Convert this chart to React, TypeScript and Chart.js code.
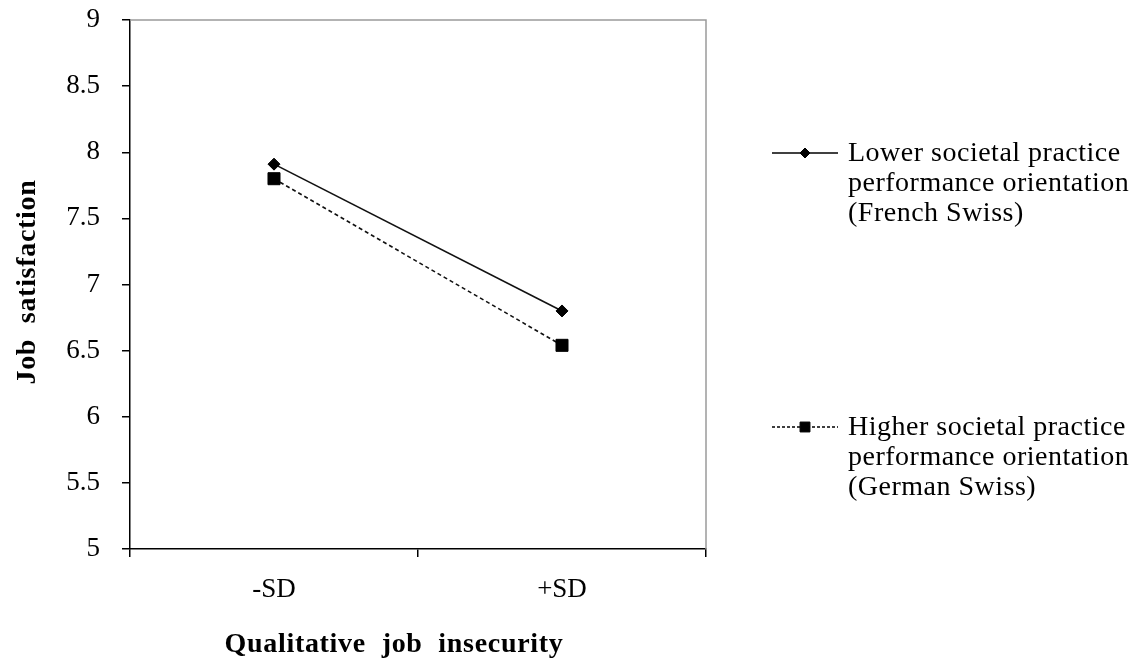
import React, { useEffect, useRef } from "react";
import { Chart, registerables } from "chart.js";
import { drawPoint } from "chart.js/helpers";

Chart.register(...registerables);

const categories = ["-SD", "+SD"];
const lowerValues = [7.91, 6.8];
const higherValues = [7.8, 6.54];
const yTicks = [5, 5.5, 6, 6.5, 7, 7.5, 8, 8.5, 9];
const lowerLabel = ["Lower societal practice", "performance orientation", "(French Swiss)"];
const higherLabel = ["Higher societal practice", "performance orientation", "(German Swiss)"];
const xTitle = "Qualitative job insecurity";
const yTitle = "Job satisfaction";

const FONT = "'Liberation Serif', 'Times New Roman', serif";

const framePlugin = {
  id: "frame",
  afterDraw(chart: any) {
    const { ctx, chartArea } = chart;
    ctx.save();
    ctx.strokeStyle = "#9a9a9a";
    ctx.lineWidth = 1.5;
    ctx.beginPath();
    ctx.moveTo(chartArea.left, chartArea.top);
    ctx.lineTo(chartArea.right, chartArea.top);
    ctx.lineTo(chartArea.right, chartArea.bottom);
    ctx.stroke();
    ctx.restore();
  },
};

const titlePlugin = {
  id: "axisTitles",
  afterDraw(chart: any) {
    const { ctx } = chart;
    ctx.save();
    ctx.fillStyle = "#000";
    ctx.font = `bold 28px ${FONT}`;
    (ctx as any).letterSpacing = "0.7px";
    (ctx as any).wordSpacing = "8px";
    ctx.textAlign = "center";
    ctx.textBaseline = "middle";
    ctx.fillText(xTitle, 394, 645);
    ctx.translate(28, 282);
    ctx.rotate(-Math.PI / 2);
    ctx.fillText(yTitle, 0, 0);
    ctx.restore();
  },
};

const legendPlugin = {
  id: "customLegend",
  afterDraw(chart: any) {
    const ctx = chart.ctx;
    const items = [
      { y: 153, dashed: false, style: "rectRot", radius: 5, lines: lowerLabel },
      { y: 427, dashed: true, style: "rect", radius: 7, lines: higherLabel },
    ];
    items.forEach((it) => {
      ctx.save();
      ctx.strokeStyle = "#000";
      ctx.lineWidth = 1.5;
      ctx.setLineDash(it.dashed ? [3, 2] : []);
      ctx.beginPath();
      ctx.moveTo(772, it.y);
      ctx.lineTo(838, it.y);
      ctx.stroke();
      ctx.setLineDash([]);
      ctx.fillStyle = "#000";
      ctx.lineWidth = 1;
      drawPoint(ctx, { pointStyle: it.style, radius: it.radius, borderWidth: 1, rotation: 0 } as any, 805, it.y);
      ctx.font = `28px ${FONT}`;
      (ctx as any).letterSpacing = "0.5px";
      ctx.textBaseline = "middle";
      ctx.textAlign = "left";
      it.lines.forEach((t, i) => ctx.fillText(t, 848, it.y + 1 + i * 30));
      ctx.restore();
    });
  },
};

export default function App() {
  const ref = useRef<HTMLCanvasElement | null>(null);
  useEffect(() => {
    document.body.style.margin = "0";
    const chart = new Chart(ref.current as HTMLCanvasElement, {
      type: "line",
      data: {
        labels: categories,
        datasets: [
          {
            label: lowerLabel.join(" "),
            data: lowerValues,
            borderColor: "#111",
            backgroundColor: "#000",
            borderWidth: 1.6,
            pointStyle: "rectRot",
            pointRadius: 6,
            pointBorderWidth: 1,
            pointBackgroundColor: "#000",
            pointBorderColor: "#000",
          },
          {
            label: higherLabel.join(" "),
            data: higherValues,
            borderColor: "#111",
            backgroundColor: "#000",
            borderWidth: 1.6,
            borderDash: [4, 3],
            pointStyle: "rect",
            pointRadius: 8.5,
            pointBorderWidth: 1,
            pointBackgroundColor: "#000",
            pointBorderColor: "#000",
          },
        ],
      },
      options: {
        responsive: false,
        animation: false,
        devicePixelRatio: 1,
        layout: { padding: { top: 20, right: 435, left: 0, bottom: 0 } },
        plugins: { legend: { display: false }, tooltip: { enabled: false } },
        scales: {
          x: {
            type: "category",
            offset: true,
            grid: { offset: true, drawOnChartArea: false, tickLength: 8, color: "#000", lineWidth: 1.5 },
            border: { color: "#000", width: 1.5 },
            ticks: { font: { family: FONT, size: 27 }, color: "#000", padding: 17, maxRotation: 0 },
            afterFit: (s: any) => {
              s.height = 119;
              s.paddingLeft = 0;
              s.paddingRight = 0;
            },
          } as any,
          y: {
            min: 5,
            max: 9,
            grid: { drawOnChartArea: false, tickLength: 8, color: "#000", lineWidth: 1.5 },
            border: { color: "#000", width: 1.5 },
            ticks: {
              font: { family: FONT, size: 27 },
              color: "#000",
              padding: 22,
              callback: (v: any) => String(v),
            },
            afterBuildTicks: (s: any) => {
              s.ticks = yTicks.map((v) => ({ value: v }));
            },
            afterFit: (s: any) => {
              s.width = 130;
              s.paddingTop = 0;
              s.paddingBottom = 0;
            },
          } as any,
        },
      },
      plugins: [framePlugin, titlePlugin, legendPlugin],
    });
    return () => chart.destroy();
  }, []);
  return (
    <div style={{ position: "absolute", left: 0, top: 0, width: 1141, height: 668, background: "#fff" }}>
      <canvas ref={ref} width={1141} height={668} style={{ display: "block", width: 1141, height: 668 }} />
    </div>
  );
}
